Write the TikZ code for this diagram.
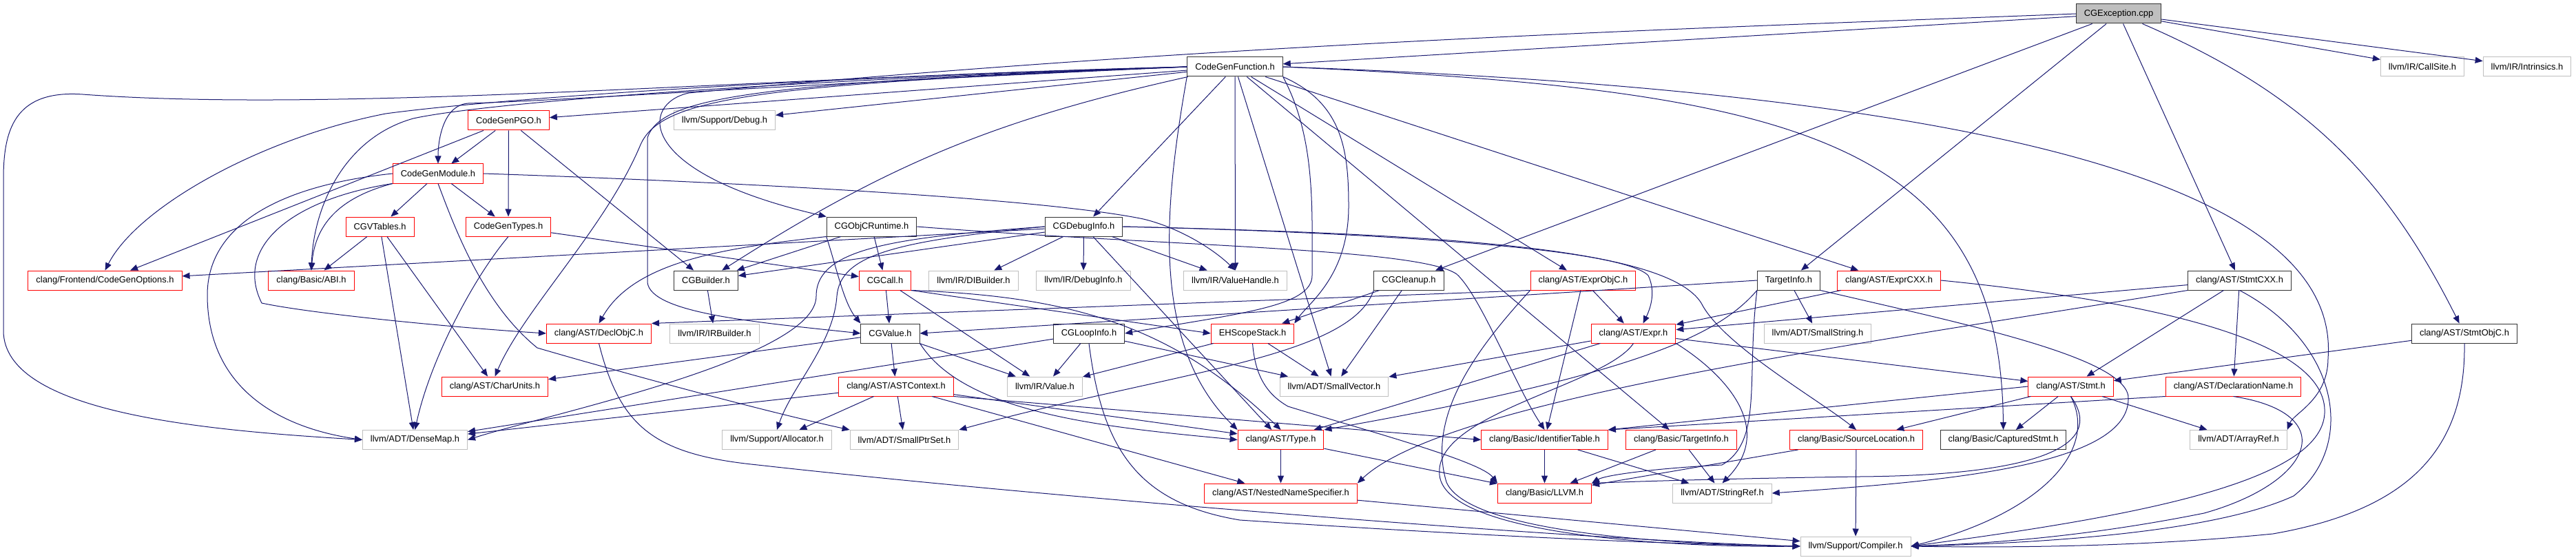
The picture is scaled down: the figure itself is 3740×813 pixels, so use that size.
\documentclass[tikz,border=0pt]{standalone}
\usepackage{fontspec}
\setmainfont{Liberation Sans}
\usetikzlibrary{arrows.meta}
\definecolor{doxyedge}{HTML}{191970}
\definecolor{doxygrey}{HTML}{BFBFBF}
\begin{document}
		\begin{tikzpicture}[x=1pt,y=1pt,
			trunc/.style={draw=red},
			extern/.style={draw=doxygrey},
			full/.style={draw=black!80},
			root/.style={draw=black!80,fill=doxygrey},
			dep/.style={draw=doxyedge,line width=1pt,-{Triangle[length=11pt,width=9pt]}}]
			\useasboundingbox (0,0) rectangle (3740,-813);
			\begin{scope}[every node/.style={rectangle,line width=1pt,minimum height=28pt,inner xsep=11.5pt,inner ysep=2pt,font=\fontsize{12.9}{15}\selectfont}]
				\node[root] (cgexc) at (3076,-20) {CGException.cpp};
				\node[full] (cgf) at (1793,-97) {CodeGenFunction.h};
				\node[extern] (callsite) at (3517,-97) {llvm/IR/CallSite.h};
				\node[extern] (intrinsics) at (3669,-97) {llvm/IR/Intrinsics.h};
				\node[trunc] (pgo) at (738.5,-175) {CodeGenPGO.h};
				\node[extern] (debug) at (1052,-175) {llvm/Support/Debug.h};
				\node[trunc] (cgm) at (636,-252) {CodeGenModule.h};
				\node[trunc] (vtables) at (551.5,-329) {CGVTables.h};
				\node[trunc] (types) at (738,-329) {CodeGenTypes.h};
				\node[full] (objcrt) at (1265.5,-329) {CGObjCRuntime.h};
				\node[full] (dbginfo) at (1573.5,-329) {CGDebugInfo.h};
				\node[trunc] (cgopts) at (152.5,-407) {clang/Frontend/CodeGenOptions.h};
				\node[trunc] (abi) at (452,-407) {clang/Basic/ABI.h};
				\node[full] (builder) at (1025,-407) {CGBuilder.h};
				\node[trunc] (call) at (1285,-407) {CGCall.h};
				\node[extern] (dibuilder) at (1413.5,-407) {llvm/IR/DIBuilder.h};
				\node[extern] (irdebuginfo) at (1573,-407) {llvm/IR/DebugInfo.h};
				\node[extern] (valuehandle) at (1793.5,-407) {llvm/IR/ValueHandle.h};
				\node[full] (cleanup) at (2045.5,-407) {CGCleanup.h};
				\node[trunc] (exprobjc) at (2298.5,-407) {clang/AST/ExprObjC.h};
				\node[full] (targetinfo) at (2597,-407) {TargetInfo.h};
				\node[trunc] (exprcxx) at (2742.5,-407) {clang/AST/ExprCXX.h};
				\node[full] (stmtcxx) at (3251.5,-407) {clang/AST/StmtCXX.h};
				\node[trunc] (declobjc) at (869.5,-484) {clang/AST/DeclObjC.h};
				\node[extern] (irbuilder) at (1037.5,-484) {llvm/IR/IRBuilder.h};
				\node[full] (cgvalue) at (1292.5,-484) {CGValue.h};
				\node[full] (loopinfo) at (1581,-484) {CGLoopInfo.h};
				\node[trunc] (ehstack) at (1818.5,-484) {EHScopeStack.h};
				\node[trunc] (expr) at (2371.5,-484) {clang/AST/Expr.h};
				\node[extern] (smallstring) at (2639,-484) {llvm/ADT/SmallString.h};
				\node[full] (stmtobjc) at (3578,-484) {clang/AST/StmtObjC.h};
				\node[trunc] (charunits) at (718.5,-561) {clang/AST/CharUnits.h};
				\node[trunc] (astctx) at (1301,-561) {clang/AST/ASTContext.h};
				\node[extern] (irvalue) at (1517,-561) {llvm/IR/Value.h};
				\node[extern] (smallvec) at (1937,-561) {llvm/ADT/SmallVector.h};
				\node[trunc] (stmt) at (3006.5,-561) {clang/AST/Stmt.h};
				\node[trunc] (declname) at (3242.5,-561) {clang/AST/DeclarationName.h};
				\node[extern] (densemap) at (602.5,-638.5) {llvm/ADT/DenseMap.h};
				\node[extern] (allocator) at (1128,-638.5) {llvm/Support/Allocator.h};
				\node[extern] (smallptrset) at (1313,-638.5) {llvm/ADT/SmallPtrSet.h};
				\node[trunc] (type) at (1859.5,-638.5) {clang/AST/Type.h};
				\node[trunc] (identtab) at (2242.5,-638.5) {clang/Basic/IdentifierTable.h};
				\node[trunc] (basictarget) at (2441,-638.5) {clang/Basic/TargetInfo.h};
				\node[trunc] (srcloc) at (2695,-638.5) {clang/Basic/SourceLocation.h};
				\node[full] (capstmt) at (2908.5,-638.5) {clang/Basic/CapturedStmt.h};
				\node[extern] (arrayref) at (3250,-638.5) {llvm/ADT/ArrayRef.h};
				\node[trunc] (nns) at (1859.5,-716) {clang/AST/NestedNameSpecifier.h};
				\node[trunc] (llvmh) at (2242.5,-716) {clang/Basic/LLVM.h};
				\node[extern] (stringref) at (2500.5,-716) {llvm/ADT/StringRef.h};
				\node[extern] (compiler) at (2694,-793) {llvm/Support/Compiler.h};
			\end{scope}
			
			\begin{scope}[every edge/.style={dep}]
				\path (cgexc) edge (cgf);
				\path (cgexc) edge (cleanup);
				\path (cgexc) edge (targetinfo);
				\path (cgexc) edge (stmtcxx);
				\path (cgexc) edge[bend left=20] (stmtobjc);
				\path (cgexc) edge (callsite);
				\path (cgexc) edge (intrinsics);
				\path (cgf) edge[bend right=10] (builder);
				\path (cgf) edge (dbginfo);
				\path (cgf) edge (pgo);
				\path (cgf) edge (exprcxx);
				\path (cgf) edge (exprobjc);
				\path (cgf) edge (basictarget);
				\path (cgf) edge (smallvec);
				\path (cgf) edge (valuehandle);
				\path (cgf) edge (debug);
				\path (pgo) edge (cgm);
				\path (pgo) edge (types);
				\path (pgo) edge (builder);
				\path (pgo) edge (cgopts);
				\path (cgm) edge (vtables);
				\path (cgm) edge (types);
				\path (vtables) edge (abi);
				\path (vtables) edge (charunits);
				\path (vtables) edge (densemap);
				\path (types) edge (call);
				\path (objcrt) edge (builder);
				\path (objcrt) edge (call);
				\path (dbginfo) edge (builder);
				\path (dbginfo) edge (type);
				\path (dbginfo) edge (cgopts);
				\path (dbginfo) edge (dibuilder);
				\path (dbginfo) edge (irdebuginfo);
				\path (dbginfo) edge (valuehandle);
				\path (builder) edge (irbuilder);
				\path (call) edge (cgvalue);
				\path (call) edge (irvalue);
				\path (call.south east) edge (ehstack.west);
				\path (cgvalue) edge (astctx);
				\path (cgvalue) edge (charunits);
				\path (cgvalue) edge (irvalue);
				\path (loopinfo) edge (densemap);
				\path (loopinfo) edge (smallvec);
				\path (loopinfo) edge (irvalue);
				\path (ehstack) edge (smallvec);
				\path (ehstack) edge (irvalue);
				\path (cleanup) edge (ehstack);
				\path (cleanup) edge (smallvec);
				\path (targetinfo.west) edge (cgvalue.east);
				\path (targetinfo) edge (smallstring);
				\path (exprobjc.south west) edge (declobjc.north east);
				\path (exprobjc) edge (expr);
				\path (exprobjc) edge (identtab);
				\path (exprcxx) edge (expr);
				\path (stmtcxx) edge (declname);
				\path (stmtcxx) edge (expr);
				\path (stmtcxx) edge (stmt);
				\path (stmtobjc) edge (stmt);
				\path (astctx) edge (densemap);
				\path (astctx) edge (allocator);
				\path (astctx) edge (smallptrset);
				\path (astctx) edge (type);
				\path (astctx) edge (nns);
				\path (astctx.south east) edge (identtab.west);
				\path (expr) edge (stmt);
				\path (expr) edge (type);
				\path (expr) edge (smallvec);
				\path (declname.south west) edge (identtab.north east);
				\path (stmt) edge (capstmt);
				\path (stmt) edge (srcloc);
				\path (stmt.west) edge (identtab.north east);
				\path (stmt) edge (arrayref);
				\path (srcloc) edge (compiler);
				\path (srcloc) edge (llvmh);
				\path (identtab) edge (llvmh);
				\path (identtab) edge (stringref);
				\path (basictarget) edge (llvmh);
				\path (basictarget) edge (stringref);
				\path (type) edge (nns);
				\path (type) edge (llvmh);
				\path (nns) edge (compiler);
			\end{scope}
			
			\draw[dep] (cgexc.west) .. controls (2500,-40) and (1800,-60) .. (1000,-135) .. controls (930,-150) and (920,-250) .. (objcrt.north west);
			\draw[dep] (cgf.south east) .. controls (1910,-200) and (1905,-300) .. (1905,-400) .. controls (1905,-445) and (1800,-455) .. (loopinfo.east);
			\draw[dep] (cgf.west) .. controls (1100,-120) and (960,-140) .. (940,-200) -- (940,-410) .. controls (945,-455) and (1100,-468) .. (cgvalue.west);
			\draw[dep] (cgf.west) .. controls (1100,-125) and (800,-147) .. (680,-150) .. controls (645,-152) and (636,-200) .. (cgm.north);
			\draw[dep] (cgf.west) .. controls (1100,-122) and (960,-142) .. (930,-210) .. controls (880,-330) and (760,-450) .. (charunits.north);
			\draw[dep] (cgf.south east) .. controls (1950,-150) and (1958,-220) .. (1958,-300) .. controls (1958,-400) and (1900,-440) .. (ehstack.north east);
			\draw[dep] (cgf.south west) .. controls (1690,-300) and (1670,-500) .. (type.north west);
			\draw[dep] (cgf.east) .. controls (2600,-130) and (2905,-200) .. (capstmt.north);
			\draw[dep] (cgf.east) .. controls (2800,-130) and (3400,-250) .. (3380,-520) .. controls (3380,-580) and (3330,-600) .. (arrayref.north east);
			\draw[dep] (cgf.west) .. controls (1100,-118) and (700,-150) .. (600,-172) .. controls (500,-200) and (455,-300) .. (abi.north);
			\draw[dep] (cgf.west) .. controls (1100,-115) and (700,-146) .. (560,-165) .. controls (380,-200) and (200,-300) .. (cgopts.north);
			\draw[dep] (cgf.west) .. controls (1100,-112) and (500,-165) .. (120,-137) .. controls (20,-130) and (5,-190) .. (5,-260) -- (5,-480) .. controls (5,-600) and (300,-625) .. (densemap.west);
			\draw[dep] (cgm.south west) .. controls (500,-285) and (458,-320) .. (abi.north);
			\draw[dep] (cgm.south west) .. controls (420,-290) and (340,-360) .. (380,-440) .. controls (450,-455) and (650,-475) .. (declobjc.west);
			\draw[dep] (cgm.west) .. controls (400,-270) and (300,-330) .. (301,-430) .. controls (302,-560) and (400,-620) .. (densemap.west);
			\draw[dep] (cgm.south) .. controls (660,-330) and (700,-440) .. (780,-505) .. controls (900,-540) and (1100,-595) .. (smallptrset.north west);
			\draw[dep] (cgm.east) .. controls (1000,-262) and (1500,-285) .. (1660,-318) .. controls (1710,-330) and (1760,-360) .. (valuehandle.north);
			\draw[dep] (types.south) .. controls (690,-400) and (625,-520) .. (densemap.north);
			\draw[dep] (objcrt.south west) .. controls (1215,-390) and (1225,-440) .. (cgvalue.north west);
			\draw[dep] (objcrt.south west) .. controls (1050,-360) and (920,-380) .. (declobjc.north);
			\draw[dep] (objcrt.east) .. controls (1700,-358) and (2060,-360) .. (2115,-398) .. controls (2150,-430) and (2200,-560) .. (identtab.north);
			\draw[dep] (dbginfo.east) .. controls (1900,-335) and (2350,-355) .. (2393,-400) .. controls (2405,-425) and (2395,-450) .. ([xshift=14pt]expr.north);
			\draw[dep] (dbginfo.east) .. controls (2100,-340) and (2420,-360) .. (2470,-440) .. controls (2500,-500) and (2640,-580) .. (srcloc.north);
			\draw[dep] (dbginfo.west) .. controls (1300,-345) and (1185,-360) .. (1185,-430) .. controls (1185,-520) and (800,-600) .. (densemap.east);
			\draw[dep] (dbginfo.west) .. controls (1300,-350) and (1220,-370) .. (1215,-430) .. controls (1210,-500) and (1150,-560) .. (allocator.north);
			\draw[dep] (call.south east) .. controls (1550,-430) and (1700,-470) .. (type.north);
			\draw[dep] (cgvalue.south east) .. controls (1400,-600) and (1600,-620) .. (type.west);
			\draw[dep] (loopinfo.south) .. controls (1600,-650) and (1650,-730) .. (1800,-755) .. controls (2100,-775) and (2400,-790) .. (compiler.west);
			\draw[dep] (ehstack.south) .. controls (1822,-540) and (1835,-570) .. (1870,-590) .. controls (2000,-630) and (2150,-670) .. (llvmh.north west);
			\draw[dep] (cleanup.south west) .. controls (1960,-520) and (1700,-540) .. (smallptrset.north east);
			\draw[dep] (targetinfo.south west) .. controls (2500,-480) and (2400,-540) .. (type.north east);
			\draw[dep] (targetinfo.south west) .. controls (2535,-550) and (2560,-640) .. (2500,-675) .. controls (2400,-680) and (2330,-690) .. (llvmh.north east);
			\draw[dep] (targetinfo.south east) .. controls (2850,-470) and (3095,-520) .. (3090,-580) .. controls (3088,-680) and (2800,-700) .. (stringref.east);
			\draw[dep] (exprobjc.south west) .. controls (2150,-500) and (2070,-600) .. (2100,-700) .. controls (2130,-770) and (2400,-790) .. (compiler.west);
			\draw[dep] (exprcxx.east) .. controls (3150,-440) and (3380,-500) .. (3375,-600) .. controls (3370,-700) and (3100,-750) .. (compiler.east);
			\draw[dep] (stmtcxx.south west) .. controls (2700,-500) and (2100,-580) .. (nns.north east);
			\draw[dep] (stmtcxx.south) .. controls (3400,-500) and (3420,-650) .. (3330,-720) .. controls (3200,-780) and (2900,-790) .. (compiler.east);
			\draw[dep] (stmtobjc.south) .. controls (3580,-650) and (3500,-740) .. (3300,-775) .. controls (3100,-795) and (2900,-795) .. (compiler.east);
			\draw[dep] (declname.south) .. controls (3400,-600) and (3360,-700) .. (3200,-745) .. controls (3000,-785) and (2850,-790) .. (compiler.east);
			\draw[dep] (stmt.south) .. controls (3050,-660) and (2950,-750) .. (compiler.east);
			\draw[dep] (stmt.south) .. controls (3060,-650) and (2950,-690) .. (2700,-692) .. controls (2550,-694) and (2400,-698) .. (llvmh.north east);
			\draw[dep] (expr.south east) .. controls (2500,-540) and (2580,-620) .. (stringref.north);
			\draw[dep] (expr.south) .. controls (2330,-560) and (2080,-600) .. (2090,-690) .. controls (2100,-780) and (2450,-795) .. (compiler.west);
			\draw[dep] (declobjc.south) .. controls (900,-620) and (950,-660) .. (1100,-675) .. controls (1500,-720) and (2300,-785) .. (compiler.west);
		\end{tikzpicture}
\end{document}
